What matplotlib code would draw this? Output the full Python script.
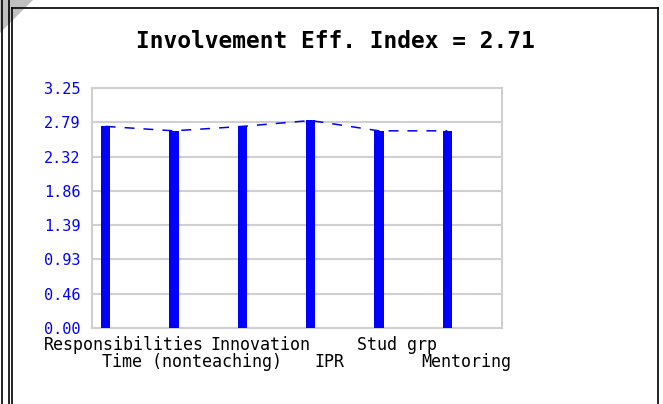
import matplotlib
matplotlib.use('Agg')
import matplotlib.pyplot as plt
from matplotlib.lines import Line2D
from matplotlib.patches import Polygon
import numpy as np

categories = ['Responsibilities', 'Time (nonteaching)', 'Innovation', 'IPR', 'Stud grp', 'Mentoring']
values = [2.73, 2.67, 2.73, 2.81, 2.67, 2.67]
index_value = 2.71
y_max = 3.25
n_ticks = 8

W, H = 663, 404
fig = plt.figure(figsize=(W / 100, H / 100), dpi=100)
fig.patch.set_facecolor('white')

def fx(px):
    return px / W

def fy(py):
    return 1 - py / H

# screenshot frame round the chart
fig.add_artist(Polygon([[fx(0), fy(0)], [fx(33), fy(0)], [fx(0), fy(33)]], closed=True,
                       transform=fig.transFigure, facecolor='#c0c0c0', edgecolor='none', zorder=0))
for xx in (1.5, 9, 11.5):
    fig.add_artist(Line2D([fx(xx), fx(xx)], [fy(0 if xx < 10 else 8), 0], transform=fig.transFigure,
                          color='black', lw=1.2))
fig.add_artist(Line2D([fx(11.5), fx(657.5)], [fy(8), fy(8)], transform=fig.transFigure, color='black', lw=1.2))
fig.add_artist(Line2D([fx(657.5), fx(657.5)], [fy(8), 0], transform=fig.transFigure, color='black', lw=1.2))

ax = fig.add_axes([fx(92), fy(328), fx(502) - fx(92), fy(88) - fy(328)])

x = np.arange(len(categories))
ax.plot(x, values, color='#0000ff', lw=1.1, dashes=(6.5, 5.9), zorder=2)
ax.bar(x, values, width=0.14, color='#0000ff', zorder=3)

ax.set_xlim(-0.2, len(categories) - 0.2)
ax.set_ylim(0, y_max)
yt = np.linspace(0, y_max, n_ticks)
ax.set_yticks(yt)
ax.set_yticklabels(['%.2f' % v for v in yt], color='#0000ff', family='DejaVu Sans Mono', fontsize=11)
ax.grid(axis='y', color='#d0d0d0', lw=1.5, zorder=0)
ax.set_axisbelow(True)
for s in ax.spines.values():
    s.set_color('#d0d0d0')
    s.set_linewidth(1.5)
ax.tick_params(length=0, pad=8.5)

ax.set_xticks([])
for i, c in enumerate(categories):
    ax.text(i + 0.27, -0.07 if i % 2 == 0 else -0.142, c, transform=ax.get_xaxis_transform(),
            ha='center', va='center', family='DejaVu Sans Mono', fontsize=12, color='black')

fig.text(fx(335), fy(42), 'Involvement Eff. Index = %.2f' % index_value, ha='center', va='center',
         family='DejaVu Sans Mono', fontweight='bold', fontsize=16.5)

fig.savefig('out.png', dpi=100)
